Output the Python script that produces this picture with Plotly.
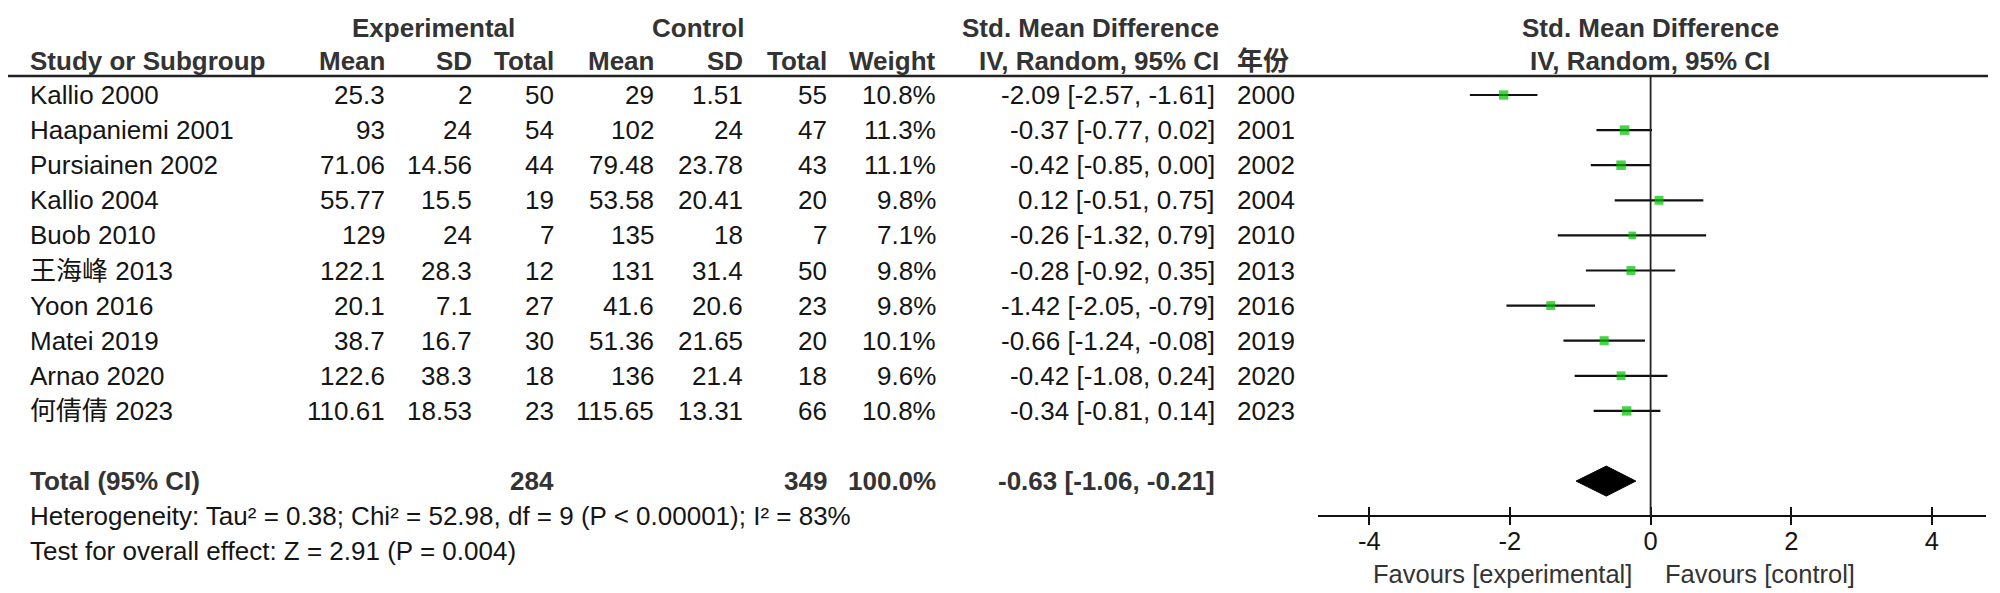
import plotly.graph_objects as go

# ---------------- data ----------------
studies = ["Kallio 2000", "Haapaniemi 2001", "Pursiainen 2002", "Kallio 2004", "Buob 2010",
           "王海峰 2013", "Yoon 2016", "Matei 2019", "Arnao 2020", "何倩倩 2023"]
exp_mean = [25.3, 93, 71.06, 55.77, 129, 122.1, 20.1, 38.7, 122.6, 110.61]
exp_sd = [2, 24, 14.56, 15.5, 24, 28.3, 7.1, 16.7, 38.3, 18.53]
exp_n = [50, 54, 44, 19, 7, 12, 27, 30, 18, 23]
ctl_mean = [29, 102, 79.48, 53.58, 135, 131, 41.6, 51.36, 136, 115.65]
ctl_sd = [1.51, 24, 23.78, 20.41, 18, 31.4, 20.6, 21.65, 21.4, 13.31]
ctl_n = [55, 47, 43, 20, 7, 50, 23, 20, 18, 66]
weight = [10.8, 11.3, 11.1, 9.8, 7.1, 9.8, 9.8, 10.1, 9.6, 10.8]
smd = [-2.09, -0.37, -0.42, 0.12, -0.26, -0.28, -1.42, -0.66, -0.42, -0.34]
ci_lo = [-2.57, -0.77, -0.85, -0.51, -1.32, -0.92, -2.05, -1.24, -1.08, -0.81]
ci_hi = [-1.61, 0.02, 0.00, 0.75, 0.79, 0.35, -0.79, -0.08, 0.24, 0.14]
years = [2000, 2001, 2002, 2004, 2010, 2013, 2016, 2019, 2020, 2023]

total_exp_n = 284
total_ctl_n = 349
total_weight = 100.0
total_smd = -0.63
total_lo = -1.06
total_hi = -0.21
heterogeneity = "Heterogeneity: Tau² = 0.38; Chi² = 52.98, df = 9 (P < 0.00001); I² = 83%"
overall = "Test for overall effect: Z = 2.91 (P = 0.004)"
xticks = [-4, -2, 0, 2, 4]
favours_left = "Favours [experimental]"
favours_right = "Favours [control]"

# ---------------- layout constants ----------------
W, H = 2000, 593
ROW0_PX = 87.0      # pixel y of first study row
ROW_PX = 35.1       # pixel spacing of rows
AXIS_PX = 508.0     # pixel y of forest x axis
HEADER_LINE_PX = 68.0
FONT = "Liberation Sans, Arial, Noto Sans CJK SC, sans-serif"
FS = 26
TXT = "#151515"
HDR = "#333333"
GREEN = "#00c000"

def row_of_px(px):
    return (px - ROW0_PX) / ROW_PX

y_top = row_of_px(0)
y_bot = row_of_px(H)
total_row = len(studies) + 1
het_row = total_row + 1
test_row = total_row + 2

fx_dom = [1310 / W, 1978 / W]
fx_rng = [-4.73, 4.77]

fig = go.Figure()

rows = list(range(len(studies)))

# CI lines
cx, cy = [], []
for r, lo, hi in zip(rows, ci_lo, ci_hi):
    cx += [lo, hi, None]
    cy += [r, r, None]
fig.add_trace(go.Scatter(x=cx, y=cy, mode="lines", xaxis="x2", yaxis="y",
                         line=dict(color="#111111", width=2.2), hoverinfo="skip", showlegend=False))
# squares
fig.add_trace(go.Scatter(x=smd, y=rows, mode="markers", xaxis="x2", yaxis="y",
                         marker=dict(symbol="square", color=GREEN,
                                     size=[2.85 * (w ** 0.5) for w in weight], line=dict(width=0)),
                         hoverinfo="skip", showlegend=False))
# diamond
dh = 15.0 / ROW_PX
fig.add_trace(go.Scatter(x=[total_lo, total_smd, total_hi, total_smd, total_lo],
                         y=[total_row, total_row - dh, total_row, total_row + dh, total_row],
                         mode="lines", fill="toself", fillcolor="#000000",
                         line=dict(color="#000000", width=1), xaxis="x2", yaxis="y",
                         hoverinfo="skip", showlegend=False))
# dummy trace for overlay axis
fig.add_trace(go.Scatter(x=[0], y=[0], mode="markers", xaxis="x3", yaxis="y",
                         marker=dict(opacity=0), hoverinfo="skip", showlegend=False))

ann = []
def T(x, y, text, anchor="right", bold=False, color=TXT, size=FS):
    ann.append(dict(x=x, y=y, xref="x", yref="y", text=f"<b>{text}</b>" if bold else text,
                    showarrow=False, xanchor=anchor, yanchor="middle",
                    font=dict(family=FONT, size=size, color=color)))

# column positions (pixels)
C_STUDY = 20
C_EM, C_ESD, C_EN = 379, 466, 548
C_CM, C_CSD, C_CN = 648, 737, 821
C_W = 930
C_CI = 1209
C_YR = 1227
C_FOREST = 1642

h1 = row_of_px(20)
h2 = row_of_px(53)
T(425, h1, "Experimental", "center", True, HDR)
T(690, h1, "Control", "center", True, HDR)
T(1082, h1, "Std. Mean Difference", "center", True, HDR)
T(C_FOREST, h1, "Std. Mean Difference", "center", True, HDR)
T(C_STUDY, h2, "Study or Subgroup", "left", True, HDR)
T(C_EM, h2, "Mean", "right", True, HDR)
T(C_ESD, h2, "SD", "right", True, HDR)
T(C_EN, h2, "Total", "right", True, HDR)
T(C_CM, h2, "Mean", "right", True, HDR)
T(C_CSD, h2, "SD", "right", True, HDR)
T(C_CN, h2, "Total", "right", True, HDR)
T(C_W, h2, "Weight", "right", True, HDR)
T(1213, h2, "IV, Random, 95% CI", "right", True, HDR)
T(C_YR, h2, "年份", "left", True, HDR)
T(C_FOREST, h2, "IV, Random, 95% CI", "center", True, HDR)

for r in rows:
    T(C_STUDY, r, studies[r], "left")
    T(C_EM, r, f"{exp_mean[r]:g}")
    T(C_ESD, r, f"{exp_sd[r]:g}")
    T(C_EN, r, str(exp_n[r]))
    T(C_CM, r, f"{ctl_mean[r]:g}")
    T(C_CSD, r, f"{ctl_sd[r]:g}")
    T(C_CN, r, str(ctl_n[r]))
    T(C_W, r, f"{weight[r]:.1f}%")
    T(C_CI, r, f"{smd[r]:.2f} [{ci_lo[r]:.2f}, {ci_hi[r]:.2f}]")
    T(C_YR, r, str(years[r]), "left")

T(C_STUDY, total_row, "Total (95% CI)", "left", True, HDR)
T(C_EN, total_row, str(total_exp_n), "right", True, HDR)
T(C_CN, total_row, str(total_ctl_n), "right", True, HDR)
T(C_W, total_row, f"{total_weight:.1f}%", "right", True, HDR)
T(C_CI, total_row, f"{total_smd:.2f} [{total_lo:.2f}, {total_hi:.2f}]", "right", True, HDR)
T(C_STUDY, het_row, heterogeneity, "left")
T(C_STUDY, test_row, overall, "left")
T(C_FOREST - 16, row_of_px(566), favours_left, "right", color="#333333", size=25.5)
T(C_FOREST + 13, row_of_px(566), favours_right, "left", color="#333333", size=25.5)

shapes = [
    dict(type="line", xref="x", yref="y", x0=0, x1=1980,
         y0=row_of_px(HEADER_LINE_PX), y1=row_of_px(HEADER_LINE_PX),
         line=dict(color="#222222", width=2.4)),
    dict(type="line", xref="x2", yref="y", x0=0, x1=0,
         y0=row_of_px(HEADER_LINE_PX), y1=row_of_px(AXIS_PX),
         line=dict(color="#222222", width=1.8)),
]

axis_pos = 1 - AXIS_PX / H
fig.update_layout(
    width=W, height=H, margin=dict(l=0, r=0, t=0, b=0),
    paper_bgcolor="white", plot_bgcolor="white",
    xaxis=dict(domain=[0, 1], range=[0, W], visible=False, fixedrange=True),
    yaxis=dict(domain=[0, 1], range=[y_bot, y_top], visible=False, fixedrange=True),
    # labelled axis: ticks drawn upward, labels sit right under the line
    xaxis2=dict(domain=fx_dom, range=fx_rng, anchor="free", position=axis_pos,
                showline=True, linewidth=2.4, linecolor="#111111",
                ticks="inside", ticklen=8, tickwidth=2, tickcolor="#111111",
                tickvals=xticks, ticktext=[str(v) for v in xticks],
                tickfont=dict(family=FONT, size=25.5, color=TXT), ticklabelstandoff=2,
                showgrid=False, zeroline=False),
    # overlay axis: downward tick halves
    xaxis3=dict(domain=fx_dom, range=fx_rng, anchor="free", position=axis_pos,
                overlaying="x2", showline=False, ticks="outside", ticklen=8, tickwidth=2,
                tickcolor="#111111", tickvals=xticks, showticklabels=False,
                showgrid=False, zeroline=False),
    annotations=ann, shapes=shapes, showlegend=False,
)

fig.write_html("out.html")
